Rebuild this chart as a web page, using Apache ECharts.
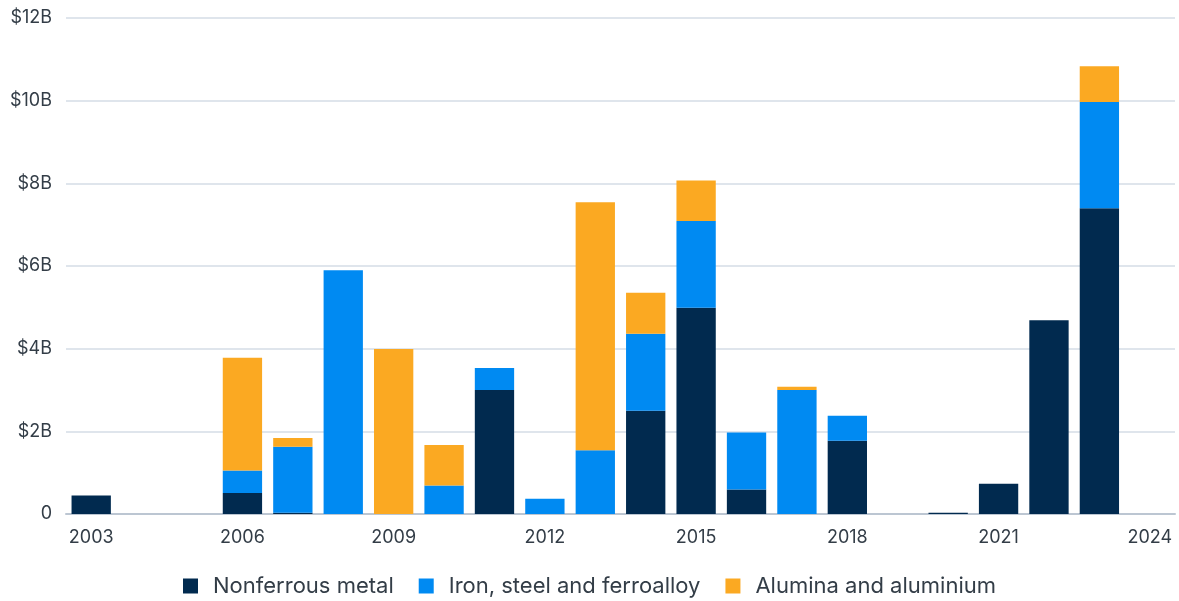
<!DOCTYPE html>
<html>
<head>
<meta charset="utf-8">
<script src="https://cdn.jsdelivr.net/npm/echarts@6/dist/echarts.min.js"></script>
<style>
html,body{margin:0;padding:0;background:#fff;}
#c{width:1179px;height:601px;}
</style>
</head>
<body>
<div id="c"></div>
<script>
const years = ['2003','2004','2005','2006','2007','2008','2009','2010','2011','2012','2013','2014','2015','2016','2017','2018','2019','2020','2021','2022','2023','2024'];
const nonferrous = [0.45,null,null,0.51,0.03,null,null,null,3.00,null,null,2.50,4.99,0.59,null,1.77,null,0.03,0.73,4.69,7.40,null];
const ironSteel = [null,null,null,0.54,1.60,5.90,null,0.69,0.53,0.37,1.54,1.86,2.10,1.38,3.00,0.61,null,null,null,null,2.57,null];
const alumina = [null,null,null,2.73,0.21,null,3.99,0.98,null,null,6.00,0.99,0.98,null,0.08,null,null,null,null,null,0.86,null];
const seriesNames = ['Nonferrous metal','Iron, steel and ferroalloy','Alumina and aluminium'];
const yTicks = [0,2,4,6,8,10,12];

const FONT = 'Inter, "Noto Sans", sans-serif';
const TXT = '#333d47';
const chart = echarts.init(document.getElementById('c'), null, {renderer:'canvas'});
const mk = (name, data, color) => ({
  name, type:'bar', stack:'total', data,
  barCategoryGap:'22%',
  itemStyle:{color},
  emphasis:{disabled:true}
});
chart.setOption({
  animation:false,
  grid:{left:66, right:4, top:18, bottom:87},
  legend:{
    top:570, left:'center',
    itemWidth:15, itemHeight:15, itemGap:25,
    icon:'rect',
    textStyle:{fontFamily:FONT, fontSize:22, color:TXT, padding:[0,0,0,10]},
    data:seriesNames
  },
  xAxis:{
    type:'category', data:years,
    axisTick:{show:false},
    axisLine:{lineStyle:{color:'#bcc6d2', width:2}},
    axisLabel:{interval:2, fontFamily:FONT, fontSize:18, color:TXT, margin:15}
  },
  yAxis:{
    type:'value', min:yTicks[0], max:yTicks[yTicks.length-1], interval:2,
    axisLabel:{fontFamily:FONT, fontSize:18, color:TXT, margin:14,
      formatter:v => v===0 ? '0' : '$'+v+'B'},
    splitLine:{lineStyle:{color:'#dfe5ec', width:2}},
    axisLine:{show:false}, axisTick:{show:false}
  },
  series:[
    mk(seriesNames[0], nonferrous, '#012a4f'),
    mk(seriesNames[1], ironSteel, '#008af2'),
    mk(seriesNames[2], alumina, '#fba922')
  ]
});
</script>
</body>
</html>
